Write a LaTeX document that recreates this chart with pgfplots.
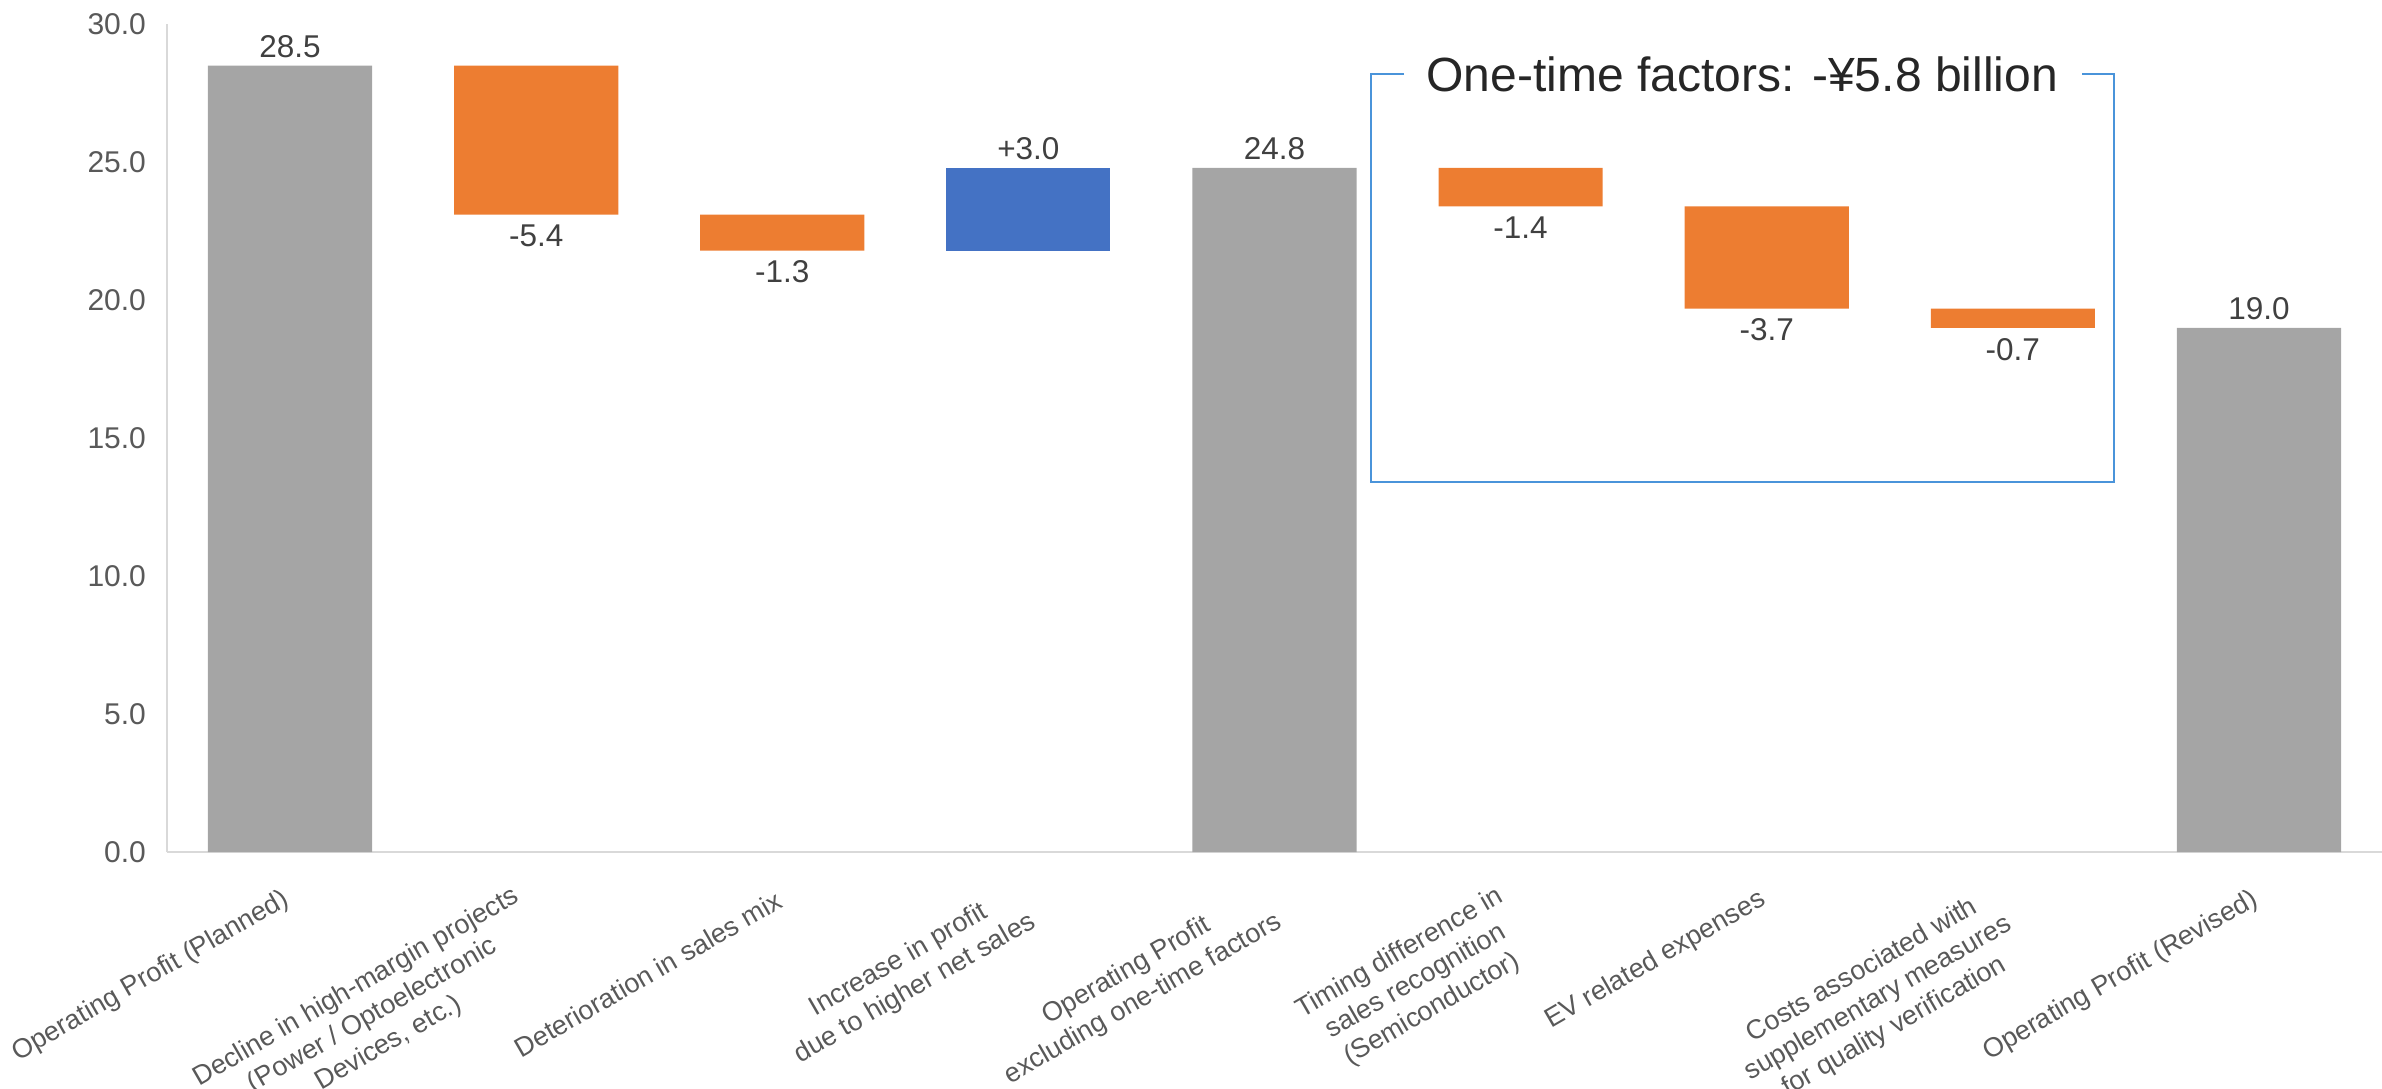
\documentclass[border=0pt]{standalone}
\usepackage{fontspec}
\setmainfont{Liberation Sans}
\usepackage{pgfplots}
\pgfplotsset{compat=1.18}
\definecolor{cgray}{HTML}{A5A5A5}
\definecolor{corange}{HTML}{ED7D31}
\definecolor{cblue}{HTML}{4472C4}
\definecolor{cbracket}{HTML}{4A94DA}
\definecolor{ctick}{HTML}{595959}
\definecolor{cval}{HTML}{404040}
\definecolor{ctitle}{HTML}{262626}
\definecolor{caxis}{HTML}{D9D9D9}
\tikzset{
  vup/.style={font=\fontsize{10.5}{12}\selectfont, text=cval, anchor=south, inner sep=2.4pt},
  vdn/.style={font=\fontsize{10.5}{12}\selectfont, text=cval, anchor=north, inner sep=3.2pt},
}
\begin{document}
\begin{tikzpicture}
\begin{axis}[
  scale only axis, width=738.33pt, height=275.97pt,
  at={(0,0)}, anchor=south west,
  xmin=-0.5, xmax=8.5, ymin=0, ymax=30,
  ybar stacked, bar width=0.667,
  axis x line=bottom, axis y line=left,
  axis line style={draw=caxis, line width=0.8pt},
  x axis line style={-}, y axis line style={-},
  major tick length=0pt,
  xtick={0,1,2,3,4,5,6,7,8},
  xticklabels={
    {Operating Profit (Planned)},
    {Decline in high-margin projects\\(Power / Optoelectronic\\Devices, etc.)},
    {Deterioration in sales mix},
    {Increase in profit\\due to higher net sales},
    {Operating Profit\\excluding one-time factors},
    {Timing difference in\\sales recognition\\(Semiconductor)},
    {EV related expenses},
    {Costs associated with\\supplementary measures\\for quality verification},
    {Operating Profit (Revised)}},
  xticklabel style={font=\fontsize{9}{10.8}\selectfont, text=ctick,
    yshift={{-14.7,-23,-14.7,-17.5,-17.5,-23,-14.7,-23,-14.7}[\ticknum]},
    rotate=30, anchor=east, align=center, inner sep=1pt},
  ytick={0,5,10,15,20,25,30},
  yticklabel style={/pgf/number format/fixed, /pgf/number format/fixed zerofill, /pgf/number format/precision=1, /pgf/number format/assume math mode=true, font=\fontsize{10}{12}\selectfont, text=ctick, xshift=-3.5pt},
  clip=false,
]
\addplot[draw=none, fill=none] coordinates {(0,0) (1,23.1) (2,21.8) (3,21.8) (4,0) (5,23.4) (6,19.7) (7,19.0) (8,0)};
\addplot[draw=none, fill=cgray] coordinates {(0,28.5) (1,0) (2,0) (3,0) (4,24.8) (5,0) (6,0) (7,0) (8,19.0)};
\addplot[draw=none, fill=corange] coordinates {(0,0) (1,5.4) (2,1.3) (3,0) (4,0) (5,1.4) (6,3.7) (7,0.7) (8,0)};
\addplot[draw=none, fill=cblue] coordinates {(0,0) (1,0) (2,0) (3,3.0) (4,0) (5,0) (6,0) (7,0) (8,0)};

\node[vup] at (axis cs:0,28.5) {28.5};
\node[vdn] at (axis cs:1,23.1) {-5.4};
\node[vdn] at (axis cs:2,21.8) {-1.3};
\node[vup] at (axis cs:3,24.8) {+3.0};
\node[vup] at (axis cs:4,24.8) {24.8};
\node[vdn] at (axis cs:5,23.4) {-1.4};
\node[vdn] at (axis cs:6,19.7) {-3.7};
\node[vdn] at (axis cs:7,19.0) {-0.7};
\node[vup] at (axis cs:8,19.0) {19.0};

\draw[cbracket, line width=0.75pt] (axis cs:4.527,28.19) -- (axis cs:4.393,28.19) -- (axis cs:4.393,13.42) -- (axis cs:7.412,13.42) -- (axis cs:7.412,28.19) -- (axis cs:7.28,28.19);
\node[font=\fontsize{16}{19}\selectfont, text=ctitle, inner sep=0pt] at (axis cs:5.9,28.19) {One-time factors: -¥5.8 billion};
\end{axis}
\pgfresetboundingbox
\path[use as bounding box] (-55.67pt,-78.6pt) rectangle (738.33pt,284.07pt);
\end{tikzpicture}
\end{document}
